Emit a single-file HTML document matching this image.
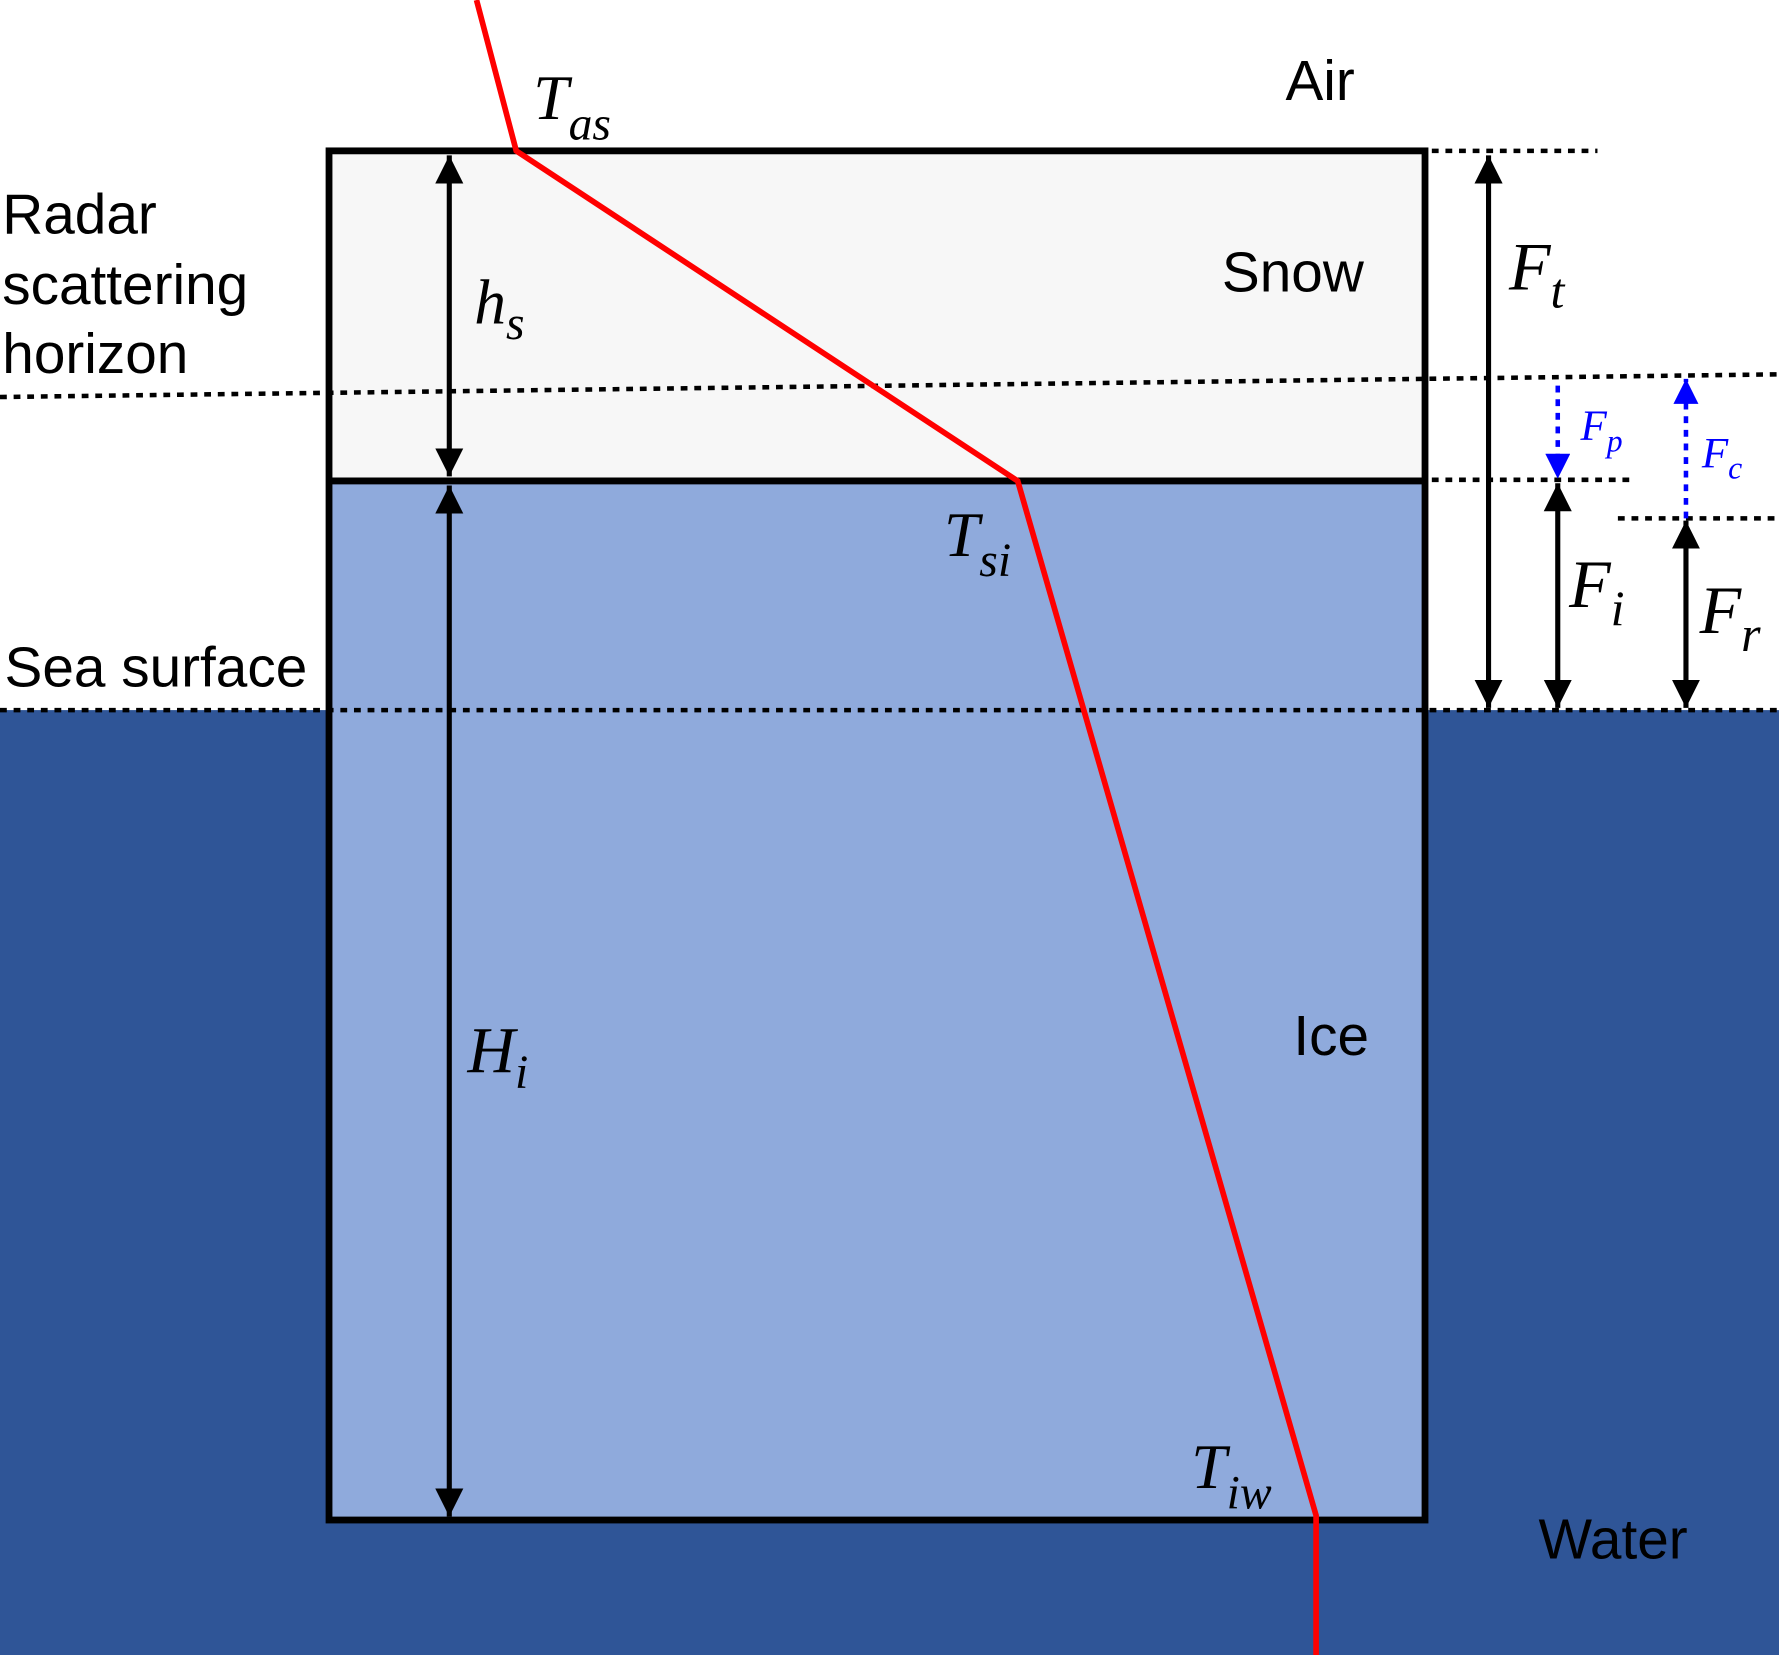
<!DOCTYPE html>
<html><head><style>html,body{margin:0;padding:0;background:#fff}svg{display:block}</style></head><body>
<svg width="1779" height="1655" viewBox="0 0 1568 1459" preserveAspectRatio="none" xmlns="http://www.w3.org/2000/svg">
<defs>
<marker id="ab" viewBox="0 0 10 10" refX="10" refY="5" markerWidth="5.5" markerHeight="5.5" orient="auto-start-reverse" markerUnits="strokeWidth"><path d="M0,0L10,5L0,10z" fill="#000"/></marker>
<marker id="bb" viewBox="0 0 10 10" refX="10" refY="5" markerWidth="5.5" markerHeight="5.5" orient="auto" markerUnits="strokeWidth"><path d="M0,0L10,5L0,10z" fill="#00f"/></marker>
</defs>
<rect x="0" y="626" width="1568" height="833" fill="#2F5597"/>
<rect x="290" y="133" width="966" height="291" fill="#F7F7F7"/>
<rect x="290" y="424" width="966" height="916" fill="#8FAADC"/>
<rect x="290" y="133" width="966" height="1207" fill="none" stroke="#000" stroke-width="6"/>
<line x1="290" y1="424" x2="1256" y2="424" stroke="#000" stroke-width="6"/>
<g stroke="#000" stroke-width="4" stroke-dasharray="6,6" fill="none">
<line x1="0" y1="350" x2="1568" y2="330"/>
<line x1="0" y1="626" x2="1568" y2="626"/>
<line x1="1262" y1="133" x2="1408" y2="133"/>
<line x1="1262" y1="423" x2="1436" y2="423"/>
<line x1="1426" y1="457" x2="1568" y2="457"/>
</g>
<polyline points="420,0 455,133 897,424 1160,1336 1160,1459" fill="none" stroke="#f00" stroke-width="5"/>
<g stroke="#000" stroke-width="4.5">
<line x1="396" y1="137" x2="396" y2="420" marker-start="url(#ab)" marker-end="url(#ab)"/>
<line x1="396" y1="428" x2="396" y2="1337" marker-start="url(#ab)" marker-end="url(#ab)"/>
<line x1="1312" y1="137" x2="1312" y2="624" marker-start="url(#ab)" marker-end="url(#ab)"/>
<line x1="1373" y1="426" x2="1373" y2="624" marker-start="url(#ab)" marker-end="url(#ab)"/>
<line x1="1486" y1="459" x2="1486" y2="624" marker-start="url(#ab)" marker-end="url(#ab)"/>
</g>
<g stroke="#00f" stroke-width="4" stroke-dasharray="6,6">
<line x1="1373" y1="340" x2="1373" y2="422" marker-end="url(#bb)"/>
<line x1="1486" y1="457" x2="1486" y2="334" marker-end="url(#bb)"/>
</g>
<g font-family="Liberation Serif, serif" font-style="italic" fill="#000">
<text x="470" y="105" font-size="56">T<tspan font-size="42" dy="18">as</tspan></text>
<text x="832" y="490" font-size="56">T<tspan font-size="42" dy="18">si</tspan></text>
<text x="1050" y="1312" font-size="56">T<tspan font-size="42" dy="18">iw</tspan></text>
<text x="418" y="285" font-size="56">h<tspan font-size="42" dy="14">s</tspan></text>
<text x="412" y="945" font-size="58">H<tspan font-size="42" dy="14">i</tspan></text>
<text x="1330" y="255" font-size="60">F<tspan font-size="44" dy="16">t</tspan></text>
<text x="1383" y="535" font-size="60">F<tspan font-size="44" dy="16">i</tspan></text>
<text x="1498" y="558" font-size="60">F<tspan font-size="44" dy="16">r</tspan></text>
<text x="1393" y="388" font-size="38" fill="#00f">F<tspan font-size="28" dy="10">p</tspan></text>
<text x="1500" y="412" font-size="38" fill="#00f">F<tspan font-size="28" dy="10">c</tspan></text>
</g>
<g font-family="Liberation Sans, sans-serif" font-size="50" fill="#000">
<text x="1133" y="88">Air</text>
<text x="1077" y="257">Snow</text>
<text x="1140" y="930">Ice</text>
<text x="1356" y="1374">Water</text>
<text x="2" y="206">Radar</text>
<text x="2" y="268">scattering</text>
<text x="2" y="329">horizon</text>
<text x="4" y="605">Sea surface</text>
</g>
</svg>
</body></html>
